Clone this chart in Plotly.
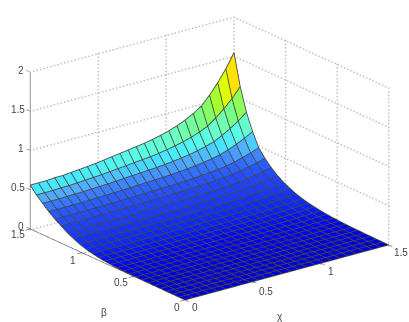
import numpy as np
import plotly.graph_objects as go

chi = np.linspace(0, 1.5, 26)
beta_desc = np.linspace(1.5, 0, 26)
ticks_xy = [0, 0.5, 1, 1.5]
ticks_z = [0, 0.5, 1, 1.5, 2]

z_rows = [
[.56,.56,.56,.57,.57,.58,.59,.60,.61,.625,.64,.655,.67,.685,.70,.72,.745,.775,.81,.855,.91,.98,1.09,1.22,1.37,1.55],
[.47,.47,.47,.477,.477,.484,.49,.497,.504,.515,.524,.535,.545,.556,.565,.579,.597,.618,.642,.673,.711,.758,.834,.924,1.026,1.15],
[.40,.40,.40,.405,.405,.409,.414,.418,.423,.43,.437,.444,.451,.458,.464,.474,.486,.50,.516,.537,.563,.595,.646,.707,.776,.86],
[.33,.33,.33,.333,.333,.336,.34,.343,.346,.351,.356,.361,.365,.37,.375,.381,.39,.399,.411,.425,.443,.466,.501,.543,.592,.65],
[.27,.27,.27,.272,.272,.274,.276,.278,.28,.284,.287,.29,.293,.296,.299,.304,.309,.316,.323,.333,.344,.359,.382,.41,.442,.48],
[.22,.22,.22,.222,.222,.223,.225,.226,.228,.231,.233,.235,.238,.24,.242,.246,.25,.255,.26,.268,.277,.288,.306,.327,.351,.38],
[.17,.17,.17,.171,.171,.173,.174,.175,.177,.179,.18,.182,.184,.186,.188,.191,.194,.198,.203,.209,.216,.225,.24,.257,.276,.30],
[.13,.13,.13,.131,.131,.132,.133,.134,.135,.137,.138,.14,.142,.143,.145,.147,.15,.153,.157,.161,.167,.175,.186,.2,.216,.235],
[.095,.095,.095,.096,.096,.097,.098,.099,.10,.101,.102,.104,.105,.106,.108,.109,.112,.115,.118,.122,.127,.133,.143,.155,.169,.185],
[.07,.07,.07,.071,.071,.072,.072,.073,.074,.075,.076,.077,.078,.079,.081,.082,.084,.086,.089,.092,.097,.102,.11,.12,.131,.145],
[.05,.05,.05,.051,.051,.051,.052,.052,.053,.054,.055,.056,.057,.058,.058,.06,.061,.063,.065,.068,.071,.075,.082,.09,.099,.11],
[.035,.035,.035,.036,.036,.036,.037,.037,.038,.038,.039,.04,.041,.041,.042,.043,.044,.046,.048,.05,.053,.056,.062,.068,.076,.085],
[.025,.025,.025,.025,.025,.026,.026,.027,.027,.028,.028,.029,.029,.03,.031,.031,.032,.034,.035,.037,.039,.042,.046,.052,.058,.065],
[.018,.018,.018,.018,.018,.019,.019,.019,.02,.02,.021,.021,.022,.022,.022,.023,.024,.025,.026,.028,.029,.032,.035,.039,.044,.05],
[.012,.012,.012,.012,.012,.013,.013,.013,.013,.014,.014,.014,.015,.015,.016,.016,.017,.018,.019,.02,.021,.023,.026,.029,.033,.038],
[.009,.009,.009,.009,.009,.009,.010,.010,.010,.010,.011,.011,.011,.011,.012,.012,.013,.013,.014,.015,.016,.017,.019,.022,.025,.028],
[.006,.006,.006,.006,.006,.006,.006,.007,.007,.007,.007,.007,.008,.008,.008,.008,.009,.009,.010,.010,.011,.012,.013,.015,.017,.02],
[.004,.004,.004,.004,.004,.004,.004,.004,.005,.005,.005,.005,.005,.005,.006,.006,.006,.006,.007,.007,.008,.009,.010,.011,.013,.015],
[.003,.003,.003,.003,.003,.003,.003,.003,.003,.004,.004,.004,.004,.004,.004,.004,.004,.005,.005,.005,.006,.006,.007,.008,.010,.011],
[.002,.002,.002,.002,.002,.002,.002,.002,.002,.002,.002,.003,.003,.003,.003,.003,.003,.003,.004,.004,.004,.005,.005,.006,.007,.008],
[.001,.001,.001,.001,.001,.001,.001,.001,.001,.001,.001,.001,.002,.002,.002,.002,.002,.002,.003,.003,.003,.003,.004,.004,.005,.006],
[.001,.001,.001,.001,.001,.001,.001,.001,.001,.001,.001,.001,.001,.001,.001,.001,.001,.001,.002,.002,.002,.002,.003,.003,.003,.004],
[0,0,0,0,0,0,0,0,0,0,0,0,0,0,0,0,.001,.001,.001,.001,.001,.001,.002,.002,.003,.003],
[0,0,0,0,0,0,0,0,0,0,0,0,0,0,0,0,0,0,.001,.001,.001,.001,.001,.001,.002,.002],
[0,0,0,0,0,0,0,0,0,0,0,0,0,0,0,0,0,0,0,0,.001,.001,.001,.001,.001,.001],
[0]*26,
]

color_z = [0, .003, .01, .03, .05, .13, .22, .27, .33, .40, .47, .55, .62, .72, .80, .88, .95, 1.03, 1.55]
color_r = [0, 0, 0, 5, 10, 25, 35, 40, 55, 80, 70, 90, 110, 120, 150, 190, 240, 255, 255]
color_g = [0, 0, 5, 25, 40, 60, 75, 90, 120, 170, 230, 255, 255, 255, 255, 255, 255, 225, 40]
color_b = [215, 235, 250, 255, 255, 255, 255, 255, 255, 255, 255, 230, 190, 130, 70, 10, 0, 0, 0]

Z = np.array(z_rows, dtype=float)
n = len(chi)
X, Y = np.meshgrid(chi, beta_desc)
vx, vy, vz = X.ravel(), Y.ravel(), Z.ravel()

def cell_color(v):
    return "rgb(%d,%d,%d)" % (np.interp(v, color_z, color_r), np.interp(v, color_z, color_g), np.interp(v, color_z, color_b))

ii, jj, kk, fc = [], [], [], []
for r in range(n - 1):
    for c in range(n - 1):
        a, b, d, e = r*n + c, r*n + c + 1, (r+1)*n + c, (r+1)*n + c + 1
        col = cell_color(Z[r + 1, c])
        ii += [a, b]; jj += [b, e]; kk += [d, d]; fc += [col, col]

traces = [go.Mesh3d(x=vx, y=vy, z=vz, i=ii, j=jj, k=kk, facecolor=fc, flatshading=True,
                    lighting=dict(ambient=1, diffuse=0, specular=0, fresnel=0, roughness=1),
                    hoverinfo="skip", showscale=False)]

# mesh lines, nudged along the viewing direction so they sit in front of the faces
ASPECT = dict(x=1.707, y=1.69, z=1.073)
VIEW = (-.570, -.743, .352)
NUDGE = .015
nx = NUDGE * VIEW[0] * 1.58 / ASPECT["x"]
ny = NUDGE * VIEW[1] * 1.58 / ASPECT["y"]
nz = NUDGE * VIEW[2] * 2 / ASPECT["z"]
lx, ly, lz = [], [], []
for r in range(n):
    lx += list(X[r] + nx) + [None]; ly += list(Y[r] + ny) + [None]; lz += list(Z[r] + nz) + [None]
for c in range(n):
    lx += list(X[:, c] + nx) + [None]; ly += list(Y[:, c] + ny) + [None]; lz += list(Z[:, c] + nz) + [None]
traces.append(go.Scatter3d(x=lx, y=ly, z=lz, mode="lines", line=dict(color="rgb(70,70,70)", width=1.7), hoverinfo="skip", showlegend=False))

# dotted grid on the floor and back walls, drawn as fine dots
FLOOR = -.012
gx, gy, gz = [], [], []
def seg(a, b, count):
    gx.extend(np.linspace(a[0], b[0], count)); gy.extend(np.linspace(a[1], b[1], count)); gz.extend(np.linspace(a[2], b[2], count))
for t in ticks_z[1:]:
    seg((0, 1.5, t), (1.5, 1.5, t), 60); seg((1.5, 1.5, t), (1.5, 0, t), 50)
for t in ticks_xy[1:]:
    seg((t, 1.5, FLOOR), (t, 1.5, 2), 45)
for t in ticks_xy[:-1]:
    seg((1.5, t, FLOOR), (1.5, t, 2), 45)
for t in ticks_xy[1:]:
    seg((t, 0, FLOOR), (t, 1.5, FLOOR), 50); seg((0, t, FLOOR), (1.5, t, FLOOR), 60)
traces.append(go.Scatter3d(x=gx, y=gy, z=gz, mode="markers", marker=dict(color="rgb(195,195,195)", size=1, line=dict(width=0)), hoverinfo="skip", showlegend=False))

# axes + ticks
ax, ay, az = [], [], []
def aseg(a, b):
    ax.extend([a[0], b[0], None]); ay.extend([a[1], b[1], None]); az.extend([a[2], b[2], None])
aseg((0, 0, 0), (1.5, 0, 0)); aseg((0, 0, 0), (0, 1.5, 0)); aseg((0, 1.5, 0), (0, 1.5, 2))
for t in ticks_xy:
    aseg((t, 0, 0), (t, -.035, 0)); aseg((0, t, 0), (-.035, t, 0))
for t in ticks_z:
    aseg((0, 1.5, t), (0, 1.535, t))
traces.append(go.Scatter3d(x=ax, y=ay, z=az, mode="lines", line=dict(color="rgb(85,85,85)", width=1.2), hoverinfo="skip", showlegend=False))

fig = go.Figure(traces)

font = dict(family="Liberation Sans", size=10, color="#444444")
def ann(x, y, z, text, dx, dy):
    return dict(x=x, y=y, z=z, text=str(text), showarrow=False, xshift=dx, yshift=dy, font=font, xanchor="center", yanchor="middle")

anns = []
for t in ticks_z:
    anns.append(ann(0, 1.5, t, t, -9 if t in (0, 1, 2) else -12, 2))
for t, dx, dy in zip(ticks_xy, [-8, -12, -9, -12], [-8, -6, -8, -6]):
    anns.append(ann(0, t, 0, t, dx, dy))
for t, dx, dy in zip(ticks_xy, [10, 13, 10, 12], [-8, -10, -8, -8]):
    anns.append(ann(t, 0, 0, t, dx, dy))
anns.append(ann(.75, 0, 0, "χ", -7, -44))
anns.append(ann(0, .75, 0, "β", -4, -48))

SHIFT = (0, 0, .008)
hidden = dict(visible=False, showgrid=False, zeroline=False, showspikes=False)
fig.update_layout(
    width=409, height=322,
    margin=dict(l=0, r=0, t=0, b=0),
    paper_bgcolor="white", showlegend=False,
    scene=dict(
        domain=dict(x=[0.0245, 1], y=[0.016, 1]),
        xaxis=dict(hidden, range=[-.04, 1.54]),
        yaxis=dict(hidden, range=[-.04, 1.54]),
        zaxis=dict(hidden, range=[-.03, 2]),
        aspectmode="manual", aspectratio=ASPECT,
        camera=dict(projection=dict(type="orthographic"), up=dict(x=0, y=0, z=1),
                    center=dict(x=SHIFT[0], y=SHIFT[1], z=SHIFT[2]),
                    eye=dict(x=VIEW[0]*1.38+SHIFT[0], y=VIEW[1]*1.38+SHIFT[1], z=VIEW[2]*1.38+SHIFT[2])),
        annotations=anns,
    ),
)
fig.write_html("out.html", post_script="document.body.style.margin='0';", config=dict(displayModeBar=False))
